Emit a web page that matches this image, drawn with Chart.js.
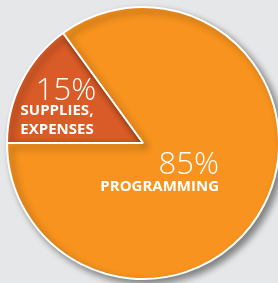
<!DOCTYPE html>
<html>
<head>
<meta charset="utf-8">
<script src="https://cdn.jsdelivr.net/npm/chart.js"></script>
<style>
    html, body { margin: 0; padding: 0; background: #e6e7e8; overflow: hidden; }
    #wrap { position: absolute; left: 0; top: 0; width: 286px; height: 286px; }
</style>
</head>
<body>
<div id="wrap"><canvas id="budgetPie"></canvas></div>
<script>
// pay dilimleri
const categories = ['SUPPLIES, EXPENSES', 'PROGRAMMING'];
const shares = [15, 85];
const sliceColors = ['#d95b27', '#f7931e'];

// gölge için küçük eklenti
const shadowPlugin = {
    id: 'shadow',
    beforeDatasetsDraw(chart) {
        const ctx = chart.ctx;
        ctx.save();
        ctx.shadowColor = 'rgba(0,0,0,0.45)';
        ctx.shadowBlur = 7;
        ctx.shadowOffsetX = 4;
        ctx.shadowOffsetY = 4;
    },
    afterDatasetsDraw(chart) {
        chart.ctx.restore();
    }
};

// dilim üzerindeki yazılar
const labelPlugin = {
    id: 'sliceLabels',
    afterDraw(chart) {
        const ctx = chart.ctx;
        const arc = chart.getDatasetMeta(0).data[0];
        const cx = arc.x, cy = arc.y;
        ctx.save();
        ctx.fillStyle = '#ffffff';
        ctx.textBaseline = 'alphabetic';

        // 15% grubu
        ctx.textAlign = 'center';
        ctx.font = '300 31px "Open Sans"';
        ctx.fillText(shares[0] + '%', cx - 77, cy - 43);
        ctx.font = 'bold 15px "Open Sans"';
        ctx.fillText('SUPPLIES,', cx - 86, cy - 28);
        ctx.fillText('EXPENSES', cx - 86, cy - 9);

        // 85% grubu
        ctx.textAlign = 'right';
        ctx.font = '300 31px "Open Sans"';
        ctx.fillText(shares[1] + '%', cx + 76, cy + 31);
        ctx.font = 'bold 15px "Open Sans"';
        ctx.fillText(categories[1], cx + 76, cy + 48);
        ctx.restore();
    }
};

new Chart(document.getElementById('budgetPie').getContext('2d'), {
    type: 'pie',
    data: {
        labels: categories,
        datasets: [{
            data: shares,
            backgroundColor: sliceColors,
            borderColor: '#ffffff',
            borderWidth: 2
        }]
    },
    options: {
        responsive: true,
        maintainAspectRatio: false,
        animation: false,
        rotation: -90,
        layout: { padding: 6 },
        plugins: {
            legend: { display: false },
            tooltip: { enabled: false }
        }
    },
    plugins: [shadowPlugin, labelPlugin]
});
</script>
</body>
</html>
